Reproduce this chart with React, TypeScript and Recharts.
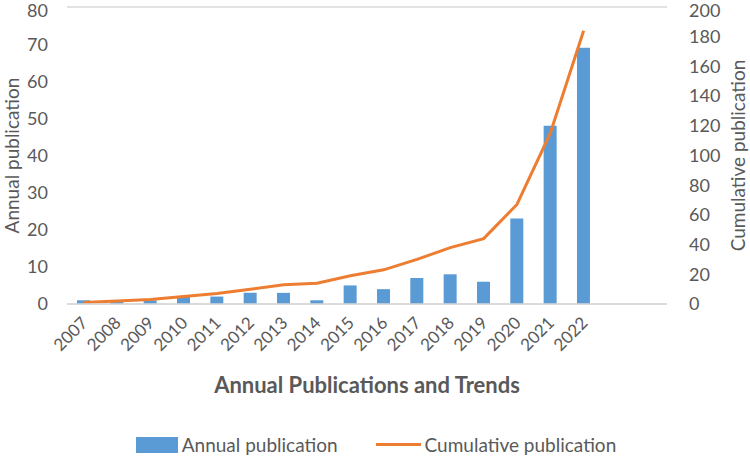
import React from "react";
import {
  ComposedChart,
  Bar,
  Line,
  XAxis,
  YAxis,
  CartesianGrid,
  Legend,
} from "recharts";

const years = [
  "2007", "2008", "2009", "2010", "2011", "2012", "2013", "2014",
  "2015", "2016", "2017", "2018", "2019", "2020", "2021", "2022",
];
const annual = [1, 1, 1, 2, 2, 3, 3, 1, 5, 4, 7, 8, 6, 23, 48, 69];
const cumulative = [1, 2, 3, 5, 7, 10, 13, 14, 19, 23, 30, 38, 44, 67, 115, 184];
const leftTicks = [0, 10, 20, 30, 40, 50, 60, 70, 80];
const rightTicks = [0, 20, 40, 60, 80, 100, 120, 140, 160, 180, 200];

const data = years.map((year, i) => ({
  year,
  annual: annual[i],
  cumulative: cumulative[i],
}));

const FONT = "Lato, 'Noto Sans', sans-serif";
const TEXT = "#595959";

function YearTick(props: any) {
  const { x, y, payload } = props;
  return (
    <g transform={`translate(${x + 5},${y + 12})`}>
      <text
        transform="rotate(-45)"
        textAnchor="end"
        fill={TEXT}
        fontSize={17}
        fontFamily={FONT}
      >
        {payload.value}
      </text>
    </g>
  );
}

function LegendContent(props: any) {
  const { payload } = props;
  return (
    <div
      style={{
        display: "flex",
        justifyContent: "center",
        alignItems: "center",
        paddingTop: 29,
        paddingLeft: 40,
        fontFamily: FONT,
        fontSize: 19,
        color: TEXT,
      }}
    >
      {(payload || []).map((entry: any) => (
        <div
          key={entry.value}
          style={{ display: "flex", alignItems: "center", marginRight: 38 }}
        >
          {entry.type === "line" ? (
            <span
              style={{
                display: "inline-block",
                width: 45,
                height: 3,
                background: entry.color,
                marginRight: 4,
              }}
            />
          ) : (
            <span
              style={{
                display: "inline-block",
                width: 42,
                height: 16,
                background: entry.color,
                marginRight: 4,
              }}
            />
          )}
          <span>{entry.value}</span>
        </div>
      ))}
    </div>
  );
}

export default function App() {
  return (
    <div style={{ position: "absolute", left: 0, top: 0, background: "#fff" }}>
      <ComposedChart
        width={750}
        height={458}
        data={data}
        margin={{ top: 7, right: 0, bottom: 0, left: 0 }}
      >
        <CartesianGrid vertical={false} stroke="#d9d9d9" strokeWidth={1.5} />
        <XAxis
          dataKey="year"
          interval={0}
          height={100}
          padding={{ left: 0, right: 66.7 }}
          axisLine={{ stroke: "#d9d9d9", strokeWidth: 1.5 }}
          tickLine={false}
          tick={<YearTick />}
          label={{
            value: "Annual Publications and Trends",
            position: "insideBottom",
            offset: 11,
            fill: TEXT,
            fontSize: 22,
            fontWeight: 700,
            fontFamily: FONT,
            dx: 0,
          }}
        />
        <YAxis
          yAxisId="left"
          width={67}
          domain={[0, 80]}
          ticks={leftTicks}
          axisLine={false}
          tickLine={false}
          tickMargin={13}
          tick={{ fill: TEXT, fontSize: 18, fontFamily: FONT }}
          label={{
            value: "Annual publication",
            angle: -90,
            position: "insideLeft",
            offset: 0,
            dx: 12,
            fill: TEXT,
            fontSize: 19,
            fontFamily: FONT,
            style: { textAnchor: "middle" },
          }}
        />
        <YAxis
          yAxisId="right"
          orientation="right"
          width={83}
          domain={[0, 200]}
          ticks={rightTicks}
          axisLine={false}
          tickLine={false}
          tickMargin={16}
          tick={{ fill: TEXT, fontSize: 18, fontFamily: FONT, textAnchor: "start" }}
          label={{
            value: "Cumulative publication",
            angle: -90,
            position: "insideRight",
            offset: 0,
            dx: -12,
            fill: TEXT,
            fontSize: 19,
            fontFamily: FONT,
            style: { textAnchor: "middle" },
          }}
        />
        <Legend height={54} verticalAlign="bottom" content={<LegendContent />} />
        <Bar
          yAxisId="left"
          dataKey="annual"
          name="Annual publication"
          fill="#5b9bd5"
          barSize={13}
          isAnimationActive={false}
        />
        <Line
          yAxisId="right"
          dataKey="cumulative"
          name="Cumulative publication"
          type="linear"
          stroke="#ed7d31"
          strokeWidth={3}
          dot={false}
          activeDot={false}
          legendType="line"
          isAnimationActive={false}
        />
      </ComposedChart>
    </div>
  );
}
